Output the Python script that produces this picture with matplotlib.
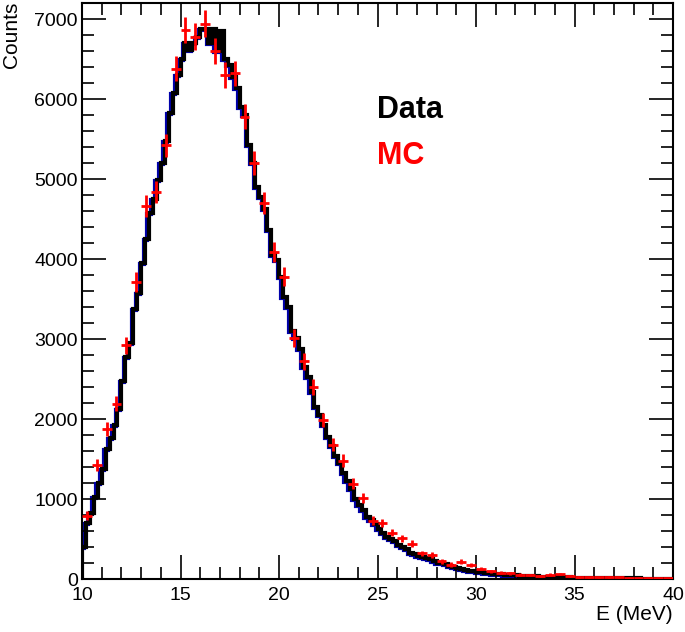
import numpy as np
import matplotlib
matplotlib.use('Agg')
import matplotlib.pyplot as plt
from matplotlib.ticker import MultipleLocator
from matplotlib.transforms import offset_copy

plt.rcParams['font.family'] = ['Liberation Sans', 'DejaVu Sans']

# ================================================
# Data histogram: 0.2 MeV bins from 10 to 40 MeV
# ================================================
data_counts = [
    400, 700, 820, 1020, 1200, 1380, 1620, 1760, 1930, 2120,
    2480, 2780, 2950, 3380, 3580, 3950, 4250, 4580, 4750, 4990,
    5200, 5480, 5820, 6080, 6300, 6500, 6700, 6610, 6700, 6780,
    6880, 6880, 6700, 6880, 6600, 6850, 6500, 6430, 6270, 6140,
    5900, 5800, 5420, 5200, 4900, 4780, 4620, 4360, 4050, 3990,
    3780, 3530, 3400, 3100, 3010, 2880, 2650, 2520, 2340, 2150,
    2050, 1930, 1780, 1660, 1540, 1450, 1330, 1230, 1130, 1000,
    930, 860, 780, 740, 690, 630, 580, 530, 500, 470,
    420, 395, 370, 330, 310, 285, 270, 260, 245, 230,
    205, 195, 185, 160, 150, 135, 125, 110, 105, 98,
    90, 82, 76, 72, 68, 62, 58, 55, 52, 50,
    46, 43, 40, 38, 35, 33, 31, 29, 27, 25,
    24, 22, 21, 20, 18, 17, 16, 15, 14, 13,
    12, 12, 11, 10, 10, 9, 9, 8, 8, 7,
    7, 7, 6, 6, 6, 5, 5, 5, 4, 4,
]
data_edges = np.linspace(10, 40, len(data_counts) + 1)

# ================================================
# MC points: 0.5 MeV bins
# ================================================
mc_counts = [
    790, 1420, 1870, 2190, 2920, 3710, 4660, 4840, 5420, 6380,
    6860, 6780, 6940, 6600, 6300, 6320, 5780, 5200, 4700, 4090,
    3780, 3010, 2720, 2400, 1990, 1680, 1480, 1190, 1010, 730,
    700, 580, 510, 440, 320, 300, 220, 180, 215, 175,
    130, 95, 80, 70, 55, 50, 40, 55, 65, 35,
    25, 20, 20, 22, 20, 15, 15, 12, 12, 10,
]
mc_x = 10.25 + 0.5 * np.arange(len(mc_counts))
mc_err = 2 * np.sqrt(np.array(mc_counts))

# ================================================
# Plot
# ================================================
fig = plt.figure(figsize=(6.85, 6.32), dpi=100)
ax = fig.add_axes([82 / 685, 1 - 579 / 632, 591 / 685, 576 / 632])

blue_tr = offset_copy(ax.transData, fig=fig, x=-1.5, y=-1.0, units='dots')
ax.stairs(data_counts, data_edges, baseline=0, color='#0000aa', lw=3, transform=blue_tr)
ax.stairs(data_counts, data_edges, baseline=0, color='black', lw=3)

ax.errorbar(mc_x, mc_counts, xerr=0.25, yerr=mc_err, fmt='none',
            ecolor='red', elinewidth=2, capsize=0, zorder=5)

ax.set_xlim(10, 40)
ax.set_ylim(0, 7200)
ax.xaxis.set_major_locator(MultipleLocator(5))
ax.xaxis.set_minor_locator(MultipleLocator(1))
ax.yaxis.set_major_locator(MultipleLocator(1000))
ax.yaxis.set_minor_locator(MultipleLocator(200))
ax.tick_params(which='both', direction='in', top=True, right=True,
               labelsize=14, width=1.2)
ax.tick_params(which='major', length=17)
ax.tick_params(which='minor', length=8.5)
ax.tick_params(axis='x', pad=6)
ax.tick_params(axis='y', pad=3)
for s in ax.spines.values():
    s.set_linewidth(1.5)

fig.text(673 / 685, 1 - 614 / 632, 'E (MeV)', ha='right', va='center', fontsize=15)
fig.text(12 / 685, 1 - 2 / 632, 'Counts', ha='center', va='top', rotation=90, fontsize=15)

ax.text(0.499, 0.80, 'Data', transform=ax.transAxes, color='black',
        fontsize=22, fontweight='bold')
ax.text(0.499, 0.72, 'MC', transform=ax.transAxes, color='red',
        fontsize=22, fontweight='bold')

plt.savefig('out.png', dpi=100)
